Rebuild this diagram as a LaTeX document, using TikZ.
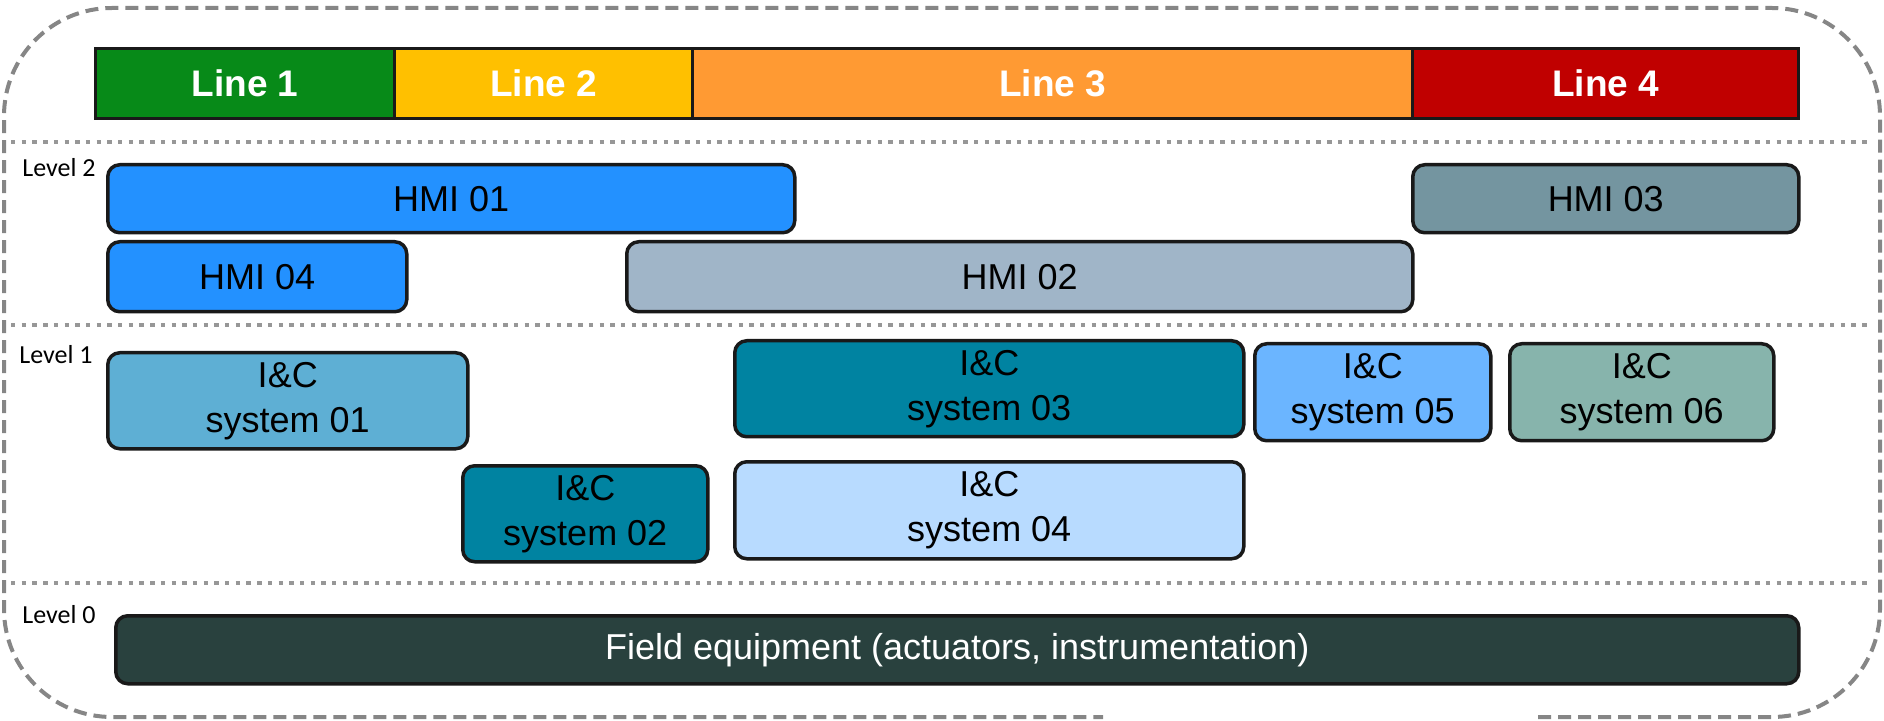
\documentclass[tikz,border=0pt]{standalone}
\usepackage{fontspec}
\setmainfont{Liberation Sans}
\newfontfamily\lvlfont{Carlito}
\definecolor{lineA}{HTML}{078A18}
\definecolor{lineB}{HTML}{FFC000}
\definecolor{lineC}{HTML}{FF9A33}
\definecolor{lineD}{HTML}{C00000}
\definecolor{hmiblue}{HTML}{2391FF}
\definecolor{hmigrey}{HTML}{A0B5C8}
\definecolor{hmislate}{HTML}{7495A0}
\definecolor{icA}{HTML}{5EAFD4}
\definecolor{icteal}{HTML}{0083A1}
\definecolor{icpale}{HTML}{B8DBFF}
\definecolor{icsky}{HTML}{6BB5FF}
\definecolor{icsage}{HTML}{87B4AC}
\definecolor{field}{HTML}{29413E}
\definecolor{frame}{HTML}{868686}
\definecolor{sep}{HTML}{979797}
\begin{document}
\begin{tikzpicture}[x=0.5pt,y=-0.5pt,
  linebox/.style={draw=black!90, line width=1.6pt, anchor=north west, inner sep=0pt,
    text=white, font=\fontsize{18.5}{21}\selectfont\bfseries},
  sysbox/.style={draw=black!90, line width=1.75pt, rounded corners=6pt, anchor=north west,
    inner sep=0pt, align=center, font=\fontsize{18}{22.5}\selectfont},
  lvl/.style={anchor=base west, inner sep=0pt, font=\lvlfont\fontsize{13}{15}\selectfont},
  sepline/.style={draw=sep, line width=2.2pt, dash pattern=on 2.2pt off 3.15pt},
  outer/.style={draw=frame, line width=2pt, dash pattern=on 6.5pt off 3.5pt, rounded corners=54pt}]
\useasboundingbox (0,0) rectangle (1884,721);

% outer frame, open at the bottom
\draw[outer] (1538,717) -- (1880,717) -- (1880,8) -- (4,8) -- (4,717) -- (1103,717);

% level separators
\draw[sepline] (11,142) -- (1872,142);
\draw[sepline] (11,325) -- (1872,325);
\draw[sepline] (11,583) -- (1872,583);

% production lines
\node[linebox, fill=lineA, minimum width=149.5pt, minimum height=35pt] (l1) at (94,47) {Line 1};
\node[linebox, fill=lineB, minimum width=149pt, minimum height=35pt] (l2) at (393,47) {Line 2};
\node[linebox, fill=lineC, minimum width=360pt, minimum height=35pt] (l3) at (691,47) {Line 3};
\node[linebox, fill=lineD, minimum width=193pt, minimum height=35pt] (l4) at (1411,47) {Line 4};

% level labels
\node[lvl] (lv2) at (22,177) {Level 2};
\node[lvl] (lv1) at (19,364) {Level 1};
\node[lvl] (lv0) at (22,623) {Level 0};

% level 2: HMIs
\node[sysbox, fill=hmiblue, minimum width=343.5pt, minimum height=34pt] (hmi1) at (106,163) {HMI 01};
\node[sysbox, fill=hmislate, minimum width=193pt, minimum height=34pt] (hmi3) at (1411,163) {HMI 03};
\node[sysbox, fill=hmiblue, minimum width=149.5pt, minimum height=35pt] (hmi4) at (106,240) {HMI 04};
\node[sysbox, fill=hmigrey, minimum width=393pt, minimum height=35pt] (hmi2) at (625,240) {HMI 02};

% level 1: I&C systems
\node[sysbox, fill=icA, minimum width=180pt, minimum height=48pt] (ic1) at (106,351) {I\&C\\system 01};
\node[sysbox, fill=icteal, minimum width=254.5pt, minimum height=48pt] (ic3) at (733,339) {I\&C\\system 03};
\node[sysbox, fill=icsky, minimum width=118pt, minimum height=48.5pt] (ic5) at (1253,342) {I\&C\\system 05};
\node[sysbox, fill=icsage, minimum width=132pt, minimum height=48.5pt] (ic6) at (1508,342) {I\&C\\system 06};
\node[sysbox, fill=icteal, minimum width=122.5pt, minimum height=48pt] (ic2) at (461,464) {I\&C\\system 02};
\node[sysbox, fill=icpale, minimum width=254.5pt, minimum height=48.5pt] (ic4) at (733,460) {I\&C\\system 04};

% level 0: field equipment
\node[sysbox, fill=field, text=white, minimum width=841.5pt, minimum height=34pt] (fld) at (114,614) {Field equipment (actuators, instrumentation)};
\end{tikzpicture}
\end{document}
